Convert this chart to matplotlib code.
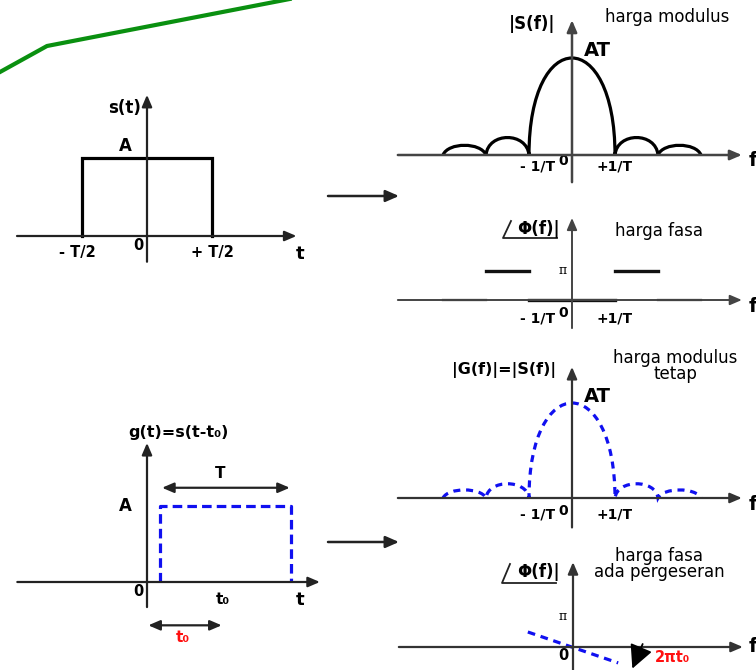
import matplotlib
matplotlib.use("Agg")
import matplotlib.pyplot as plt
from matplotlib.path import Path
from matplotlib.patches import PathPatch

# ---------------- data ----------------
# time-domain pulses (t in units of T, amplitude in units of A)
pulse_t = [-0.5, -0.5, 0.5, 0.5]
pulse_amp = [0, 1, 1, 0]
shifted_t = [0.1, 0.1, 1.1, 1.1]
shifted_amp = [0, 1, 1, 0]

# spectrum lobes (f in units of 1/T, height in units of AT)
lobe_edges = [-3, -2, -1, 1, 2, 3]
S_lobe_heights = [0.10, 0.18, 1.0, 0.18, 0.10]
G_lobe_heights = [0.085, 0.15, 1.0, 0.15, 0.085]

# phase of s(t) (units of pi), piecewise between lobe edges
phase_values = [0, 1, 0, 1, 0]

# linear phase of shifted pulse (f in 1/T, phase in pi)
shift_phase_f = [-1.05, 1.05]
shift_phase = [0.5, -0.53]

# decorative green stroke (pixels)
deco_x = [0, 47, 300]
deco_y = [72, 46, -3]

f_tick_labels = ["- 1/T", "0", "+1/T"]
t_tick_labels = ["- T/2", "0", "+ T/2"]

# ---------------- figure ----------------
W, H = 756, 670
fig = plt.figure(figsize=(W / 100, H / 100), dpi=100)
FONT = "DejaVu Sans"
BLUE = "#1010f0"
RED = "#ff1010"
AXC = "#333333"


def overlay():
    ax = fig.add_axes([0, 0, 1, 1])
    ax.set_xlim(0, W)
    ax.set_ylim(H, 0)
    ax.axis("off")
    ax.patch.set_alpha(0)
    return ax


def panel(ox, oy, sx, sy):
    """Axes whose data origin sits at pixel (ox, oy); sx, sy pixels per unit."""
    ax = fig.add_axes([0, 0, 1, 1])
    ax.set_xlim(-ox / sx, (W - ox) / sx)
    ax.set_ylim((oy - H) / sy, oy / sy)
    ax.axis("off")
    ax.patch.set_alpha(0)
    return ax


def arrow(ax, p0, p1, color=AXC, lw=1.5, style="-|>", hl=0.7, hw=0.3, ms=10):
    ax.annotate("", xy=p1, xytext=p0,
                arrowprops=dict(arrowstyle=f"{style},head_length={hl},head_width={hw}",
                                color=color, lw=lw, shrinkA=0, shrinkB=0,
                                mutation_scale=ms),
                annotation_clip=False)


def axes_cross(ax, xr, yr, color=AXC, lw=1.5):
    arrow(ax, (xr[0], 0), (xr[1], 0), color=color, lw=lw)
    arrow(ax, (0, yr[0]), (0, yr[1]), color=color, lw=lw)


def lobes_path(edges, heights, insets):
    verts, codes = [], []
    for i, h in enumerate(heights):
        x0, x1 = edges[i], edges[i + 1]
        w = x1 - x0
        s = insets[i]
        if i == 0:
            verts.append((x0, 0)); codes.append(Path.MOVETO)
        verts += [(x0 + s * w, 4 * h / 3), (x1 - s * w, 4 * h / 3), (x1, 0)]
        codes += [Path.CURVE4] * 3
    return Path(verts, codes)


ov = overlay()

# ---------- panel 1 : s(t) ----------
p1 = panel(147, 236, 130, 78)
axes_cross(p1, (-1.0, 1.15), (-0.33, 1.81), color="#222222", lw=1.6)
p1.plot(pulse_t, pulse_amp, color="black", lw=2.3, solid_joinstyle="miter")

# ---------- panel 6 : g(t) ----------
p6 = panel(147, 582, 131, 76)
axes_cross(p6, (-0.99, 1.32), (-0.33, 1.83), color="#222222", lw=1.6)
p6.plot(shifted_t, shifted_amp, color=BLUE, lw=2.3, linestyle=(0, (3, 1.6)))
arrow(p6, (0.115, 1.24), (1.09, 1.24), style="<|-|>", lw=1.6, color="#222222")
arrow(p6, (0.01, -0.57), (0.57, -0.57), style="<|-|>", lw=1.6, color="#222222")

# ---------- panel 2 : |S(f)| ----------
p2 = panel(572, 155, 43, 97)
axes_cross(p2, (-4.05, 3.95), (-0.28, 1.39), color="#444444", lw=1.8)
p2.add_patch(PathPatch(lobes_path(lobe_edges, S_lobe_heights, [0.12, 0.05, 0.0, 0.05, 0.12]),
                       fill=False, edgecolor="black", lw=2.3))

# ---------- panel 3 : phase ----------
p3 = panel(572, 300, 43, 29)
axes_cross(p3, (-4.05, 3.95), (-0.97, 2.83), color="#444444", lw=1.4)
for i, v in enumerate(phase_values):
    p3.plot([lobe_edges[i], lobe_edges[i + 1]], [v, v], color="#111111",
            lw=2.4 if (v != 0 or lobe_edges[i] == -1) else 1.6)

# ---------- panel 4 : |G(f)| ----------
p4 = panel(572, 498, 43, 95)
axes_cross(p4, (-4.05, 3.95), (-0.31, 1.38), color="#333333", lw=1.6)
p4.add_patch(PathPatch(lobes_path(lobe_edges, G_lobe_heights, [0.12, 0.05, 0.0, 0.05, 0.12]),
                       fill=False, edgecolor=BLUE, lw=2.3, linestyle=(0, (2.2, 1.8))))

# ---------- panel 5 : shifted phase ----------
p5 = panel(573, 647, 43, 30)
axes_cross(p5, (-4.05, 3.95), (-0.93, 2.83), color="#333333", lw=1.6)
p5.plot(shift_phase_f, shift_phase, color=BLUE, lw=2.3, linestyle=(0, (2.4, 1.8)))
arrow(p5, (1.62, 0.1), (1.38, -0.72), color="black", lw=1.3, hl=0.9, hw=0.45, ms=16)

# ---------- connecting arrows & decoration ----------
arrow(ov, (328, 196), (399, 196), color="#222222", lw=1.8, hl=0.8, hw=0.35)
arrow(ov, (328, 542), (399, 542), color="#222222", lw=1.8, hl=0.8, hw=0.35)
ov.plot(deco_x, deco_y, color="#0a9010", lw=3.0, solid_joinstyle="round")

# angle symbols
for (x0, yb, yt) in [(503, 238, 221), (502, 583, 564)]:
    ov.plot([x0 + 8, x0, x0 + 54], [yt, yb, yb], color="#222222", lw=1.3)


def txt(x, y, s, size=11, weight="bold", color="black", family=FONT, ha="center", **kw):
    ov.text(x, y, s, fontsize=size, fontweight=weight, color=color, family=family,
            ha=ha, va="center", **kw)


# panel 1 labels
txt(125, 108, "s(t)", 12)
txt(125, 146, "A", 12)
txt(77, 252, t_tick_labels[0], 10.5)
txt(138, 246, t_tick_labels[1], 10.5)
txt(212, 252, t_tick_labels[2], 10.5)
txt(300, 254, "t", 13)

# panel 2 labels
txt(532, 24, "|S(f)|", 12)
txt(667, 17, "harga modulus", 12, weight="normal")
txt(597, 50, "AT", 14)
txt(538, 166, f_tick_labels[0], 10)
txt(563, 161, f_tick_labels[1], 10)
txt(615, 166, f_tick_labels[2], 10)
txt(749, 160, "f", 14, ha="left")

# panel 3 labels
txt(517, 229, "Φ(f)|", 12, ha="left")
txt(659, 231, "harga fasa", 12, weight="normal")
txt(563, 270, "π", 9, weight="normal", family="DejaVu Serif")
txt(538, 318, f_tick_labels[0], 10)
txt(563, 313, f_tick_labels[1], 10)
txt(615, 318, f_tick_labels[2], 10)
txt(749, 307, "f", 14, ha="left")

# panel 4 labels
txt(504, 370, "|G(f)|=|S(f)|", 11.5)
txt(675, 366, "harga modulus\ntetap", 12, weight="normal", linespacing=0.9)
txt(597, 397, "AT", 14)
txt(538, 515, f_tick_labels[0], 10)
txt(563, 511, f_tick_labels[1], 10)
txt(615, 515, f_tick_labels[2], 10)
txt(749, 505, "f", 14, ha="left")

# panel 5 labels
txt(517, 572, "Φ(f)|", 12, ha="left")
txt(659, 564, "harga fasa\nada pergeseran", 12, weight="normal", linespacing=0.9)
txt(563, 617, "π", 9, weight="normal", family="DejaVu Serif")
txt(563, 656, "0", 10.5)
txt(749, 647, "f", 14, ha="left")
txt(672, 658, "2πt₀", 10.5, color=RED)

# panel 6 labels
txt(178, 432, "g(t)=s(t-t₀)", 11.5)
txt(220, 473, "T", 11)
txt(125, 506, "A", 12)
txt(138, 591, "0", 10.5)
txt(223, 600, "t₀", 11)
txt(300, 600, "t", 13)
txt(183, 638, "t₀", 11, color=RED)

fig.savefig("out.png", dpi=100)
